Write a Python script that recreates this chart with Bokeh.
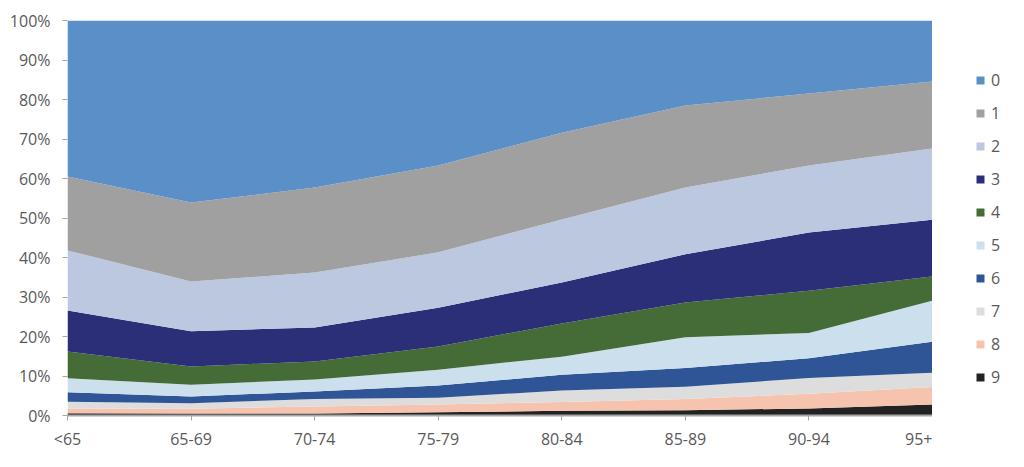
from bokeh.plotting import figure
from bokeh.layouts import row
from bokeh.models import (ColumnDataSource, Range1d, FixedTicker, PrintfTickFormatter,
                          Legend, LegendItem)
from bokeh.embed import file_html
from bokeh.resources import INLINE

categories = ["<65", "65-69", "70-74", "75-79", "80-84", "85-89", "90-94", "95+"]
s0 = [39.5, 46.1, 42.3, 36.7, 28.4, 21.5, 18.5, 15.4]
s1 = [18.7, 20.0, 21.5, 22.0, 22.0, 20.8, 18.2, 17.0]
s2 = [15.2, 12.6, 13.9, 14.0, 15.9, 16.9, 17.0, 18.0]
s3 = [10.4, 8.9, 8.6, 9.8, 10.4, 12.2, 14.7, 14.4]
s4 = [6.8, 4.6, 4.6, 5.9, 8.4, 8.8, 10.7, 6.1]
s5 = [3.5, 3.0, 3.0, 4.0, 4.6, 7.8, 6.4, 10.4]
s6 = [2.4, 1.7, 1.9, 3.1, 4.0, 4.7, 5.0, 7.9]
s7 = [1.7, 1.4, 1.9, 1.7, 2.9, 3.1, 4.0, 3.6]
s8 = [1.2, 1.2, 1.8, 2.0, 2.2, 2.9, 3.7, 4.4]
s9 = [0.6, 0.5, 0.5, 0.8, 1.2, 1.3, 1.8, 2.8]
series_names = ["0", "1", "2", "3", "4", "5", "6", "7", "8", "9"]
series_values = [s0, s1, s2, s3, s4, s5, s6, s7, s8, s9]
colors = ["#5B8FC8", "#A0A0A0", "#BCC8DF", "#2B2F78", "#456B36",
          "#CCDFEC", "#2F5597", "#DDDDDD", "#F6C4AE", "#222222"]

xs = list(range(len(categories)))
data = {"x": xs}
for n, v in zip(series_names, series_values):
    data["s" + n] = v
source = ColumnDataSource(data)

p = figure(width=932, height=460, output_backend="svg", toolbar_location=None,
           x_range=Range1d(0, len(categories) - 1), y_range=Range1d(0, 100),
           min_border_left=67, min_border_top=20, min_border_bottom=45, min_border_right=0)
p.outline_line_color = None
p.xgrid.grid_line_color = None
p.ygrid.grid_line_color = None

# stack from bottom (9) to top (0)
stack_order = ["s" + n for n in reversed(series_names)]
rev_colors = list(reversed(colors))
p.varea_stack(stackers=stack_order, x="x", source=source, color=rev_colors)

label_font = "Open Sans"
p.yaxis.ticker = FixedTicker(ticks=list(range(0, 101, 10)))
p.yaxis.formatter = PrintfTickFormatter(format="%d%%")
p.xaxis.ticker = FixedTicker(ticks=xs)
p.xaxis.major_label_overrides = {i: c for i, c in enumerate(categories)}
for ax in (p.xaxis, p.yaxis):
    ax.major_label_text_font = label_font
    ax.major_label_text_font_size = "16px"
    ax.major_label_text_color = "#595959"
    ax.axis_line_color = "#A6A6A6"
    ax.axis_line_width = 2
    ax.major_tick_line_color = "#A6A6A6"
    ax.minor_tick_line_color = None
    ax.major_tick_out = 5
    ax.major_tick_in = 0
p.yaxis.axis_line_color = None
p.yaxis.major_label_standoff = 12
p.xaxis.major_label_standoff = 7

# legend panel (separate figure so that it is not clipped by the plot frame)
pl = figure(width=84, height=460, output_backend="svg", toolbar_location=None,
            x_range=Range1d(100, 101), y_range=Range1d(100, 101),
            min_border_left=0, min_border_right=0, min_border_top=0, min_border_bottom=0)
pl.axis.visible = False
pl.grid.visible = False
pl.outline_line_color = None
lrends = pl.varea_stack(stackers=stack_order, x="x", source=source, color=rev_colors)
rend_map = dict(zip(list(reversed(series_names)), lrends))

legend = Legend(items=[LegendItem(label=n, renderers=[rend_map[n]]) for n in series_names])
legend.border_line_color = None
legend.background_fill_alpha = 0
legend.glyph_width = 10
legend.glyph_height = 10
legend.label_height = 20
legend.spacing = 11
legend.padding = 0
legend.margin = 0
legend.label_standoff = 6
legend.label_text_font = "Open Sans"
legend.label_text_font_size = "16px"
legend.label_text_color = "#595959"
legend.label_text_baseline = "middle"
legend.location = (43, 27)
pl.add_layout(legend, "center")

layout = row(p, pl)
open("out.html", "w").write(file_html(layout, INLINE))
